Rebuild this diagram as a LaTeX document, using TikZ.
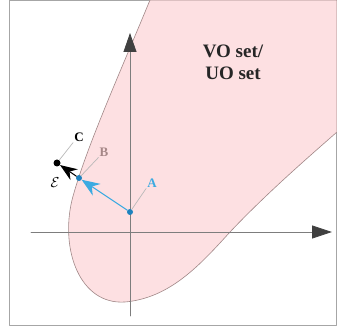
\documentclass[tikz,border=0pt]{standalone}
\usepackage{fontspec}
\setmainfont{Liberation Serif}
\usetikzlibrary{arrows.meta}
\definecolor{setpink}{RGB}{253,224,226}
\definecolor{setedge}{RGB}{160,135,135}
\definecolor{axisgray}{RGB}{125,125,125}
\definecolor{vblue}{RGB}{60,170,225}
\definecolor{dotblue}{RGB}{30,130,190}
\definecolor{bmauve}{RGB}{165,135,135}
\begin{document}
\begin{tikzpicture}[x=1pt,y=-1pt,line join=round,line cap=round,>=Stealth]
			\tikzset{dot/.style={circle,inner sep=0pt,minimum size=6pt},
				lbl/.style={font=\fontsize{13}{15}\selectfont\bfseries,inner sep=1pt},
				leader/.style={draw=gray!55,line width=0.7pt}}
			\useasboundingbox (0,0) rectangle (337,331);
			\draw[gray!70,line width=0.8pt] (9,0.5) rectangle (336.5,325);
			% the set
			\filldraw[fill=setpink,draw=setedge,line width=0.6pt] (150,0) .. controls (122,68) and (85,150) .. (72,200)
				.. controls (60,250) and (80,305) .. (125,302) .. controls (170,298) and (200,265) .. (230,232)
				.. controls (265,195) and (305,160) .. (337,132) -- (337,0) -- cycle;
			% axes
			\coordinate (xl) at (31,232);
			\coordinate (xr) at (332,232);
			\coordinate (yb) at (130,316);
			\coordinate (yt) at (130,33);
			\draw[axisgray,line width=0.8pt,-{Triangle[length=20pt,width=13pt,color=black!75]}] (xl)--(xr);
			\draw[axisgray,line width=0.8pt,-{Triangle[length=19pt,width=13pt,color=black!75]}] (yb)--(yt);
			\node[font=\fontsize{19}{22}\selectfont\bfseries,align=center,text=black!85] (vo) at (233,62) {VO set/\\UO set};
			% vectors
			\node[dot,fill=dotblue] (o) at (130,212) {};
			\node[dot,fill=dotblue] (b) at (79,178) {};
			\node[dot,fill=black,minimum size=7pt] (c) at (57,163) {};
			\draw[vblue,line width=1pt,-{Stealth[length=18pt,width=14pt]}] (o) -- (b);
			\draw[black,line width=1pt,-{Stealth[length=17pt,width=13pt]}] (b) -- (c);
			% labels
			\node[lbl,text=vblue] (la) at (152,183) {A};
			\node[lbl,text=bmauve] (lb) at (104,152) {B};
			\node[lbl] (lc) at (79,137) {C};
			\node[inner sep=1pt,font=\Large] (le) at (55,183) {$\mathcal{E}$};
			\draw[leader] (la.south west) -- (o);
			\draw[leader] (lb.south west) -- (b);
			\draw[leader] (lc.south west) -- (c);
		\end{tikzpicture}
\end{document}
